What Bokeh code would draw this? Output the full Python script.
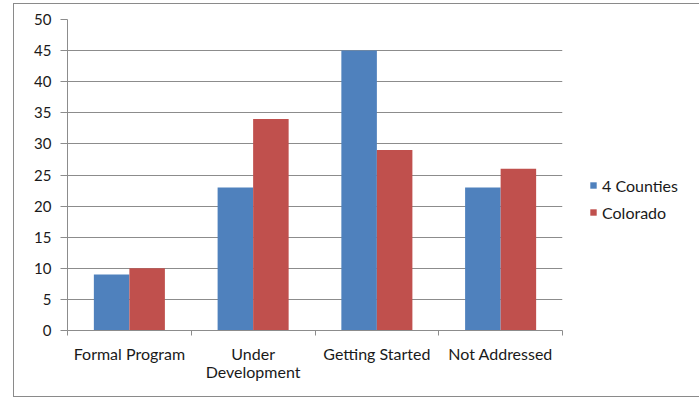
from bokeh.plotting import figure
from bokeh.models import ColumnDataSource, Range1d, FixedTicker, Legend, LegendItem
from bokeh.transform import dodge
from bokeh.embed import file_html
from bokeh.resources import INLINE

categories = ["Formal Program", "Under\nDevelopment", "Getting Started", "Not Addressed"]
series_names = ["4 Counties", "Colorado"]
counties = [9, 23, 45, 23]
colorado = [10, 34, 29, 26]
y_ticks = [0, 5, 10, 15, 20, 25, 30, 35, 40, 45, 50]
colors = ["#4F81BD", "#C0504D"]

FONT = "Lato"
TXT = "#1a1a1a"
GRID = "#8c8c8c"

centers = [i + 0.5 for i in range(len(categories))]
src = ColumnDataSource(dict(x=centers, a=counties, b=colorado))

p = figure(width=681, height=392, output_backend="svg", toolbar_location=None,
           x_range=Range1d(0, len(categories)), y_range=Range1d(0, 50),
           min_border_left=53, min_border_top=15, min_border_bottom=66, min_border_right=0,
           frame_width=495, frame_height=311)
p.styles = {"margin-left": "13px", "margin-top": "3px", "border": "1px solid #8a8a8a"}
p.outline_line_color = None
p.background_fill_color = "white"
p.border_fill_color = "white"

w = 0.287
r1 = p.vbar(x=dodge("x", -w / 2, range=p.x_range), top="a", width=w, source=src,
            fill_color=colors[0], line_color=None)
r2 = p.vbar(x=dodge("x", w / 2, range=p.x_range), top="b", width=w, source=src,
            fill_color=colors[1], line_color=None)

# x axis
p.xaxis.ticker = FixedTicker(ticks=centers, minor_ticks=list(range(len(categories) + 1)))
p.xaxis.major_label_overrides = {c: lab for c, lab in zip(centers, categories)}
p.xaxis.major_tick_out = 0
p.xaxis.major_tick_in = 0
p.xaxis.minor_tick_out = 5
p.xaxis.minor_tick_in = 0
p.xaxis.minor_tick_line_color = GRID
p.xaxis.axis_line_color = GRID
p.xaxis.major_label_standoff = 8
p.xaxis.major_label_text_font = FONT
p.xaxis.major_label_text_font_size = "16px"
p.xaxis.major_label_text_color = TXT
p.xaxis.major_label_text_line_height = 0.95
p.xgrid.grid_line_color = None

# y axis
p.yaxis.ticker = FixedTicker(ticks=y_ticks)
p.yaxis.major_tick_out = 7
p.yaxis.major_tick_in = 0
p.yaxis.minor_tick_line_color = None
p.yaxis.major_tick_line_color = GRID
p.yaxis.axis_line_color = GRID
p.yaxis.major_label_standoff = 9
p.yaxis.major_label_text_font = FONT
p.yaxis.major_label_text_font_size = "15px"
p.yaxis.major_label_text_color = TXT
p.ygrid.grid_line_color = GRID
p.ygrid.ticker = FixedTicker(ticks=y_ticks)

legend = Legend(items=[LegendItem(label=series_names[0], renderers=[r1]),
                       LegendItem(label=series_names[1], renderers=[r2])],
                location=(27, 108))
legend.glyph_width = 8
legend.glyph_height = 8
legend.label_height = 20
legend.spacing = 7
legend.padding = 0
legend.margin = 27
legend.label_standoff = 5
legend.border_line_color = None
legend.background_fill_alpha = 0
legend.label_text_font = FONT
legend.label_text_font_size = "16px"
legend.label_text_color = TXT
p.add_layout(legend, "right")

open("out.html", "w").write(file_html(p, INLINE))
